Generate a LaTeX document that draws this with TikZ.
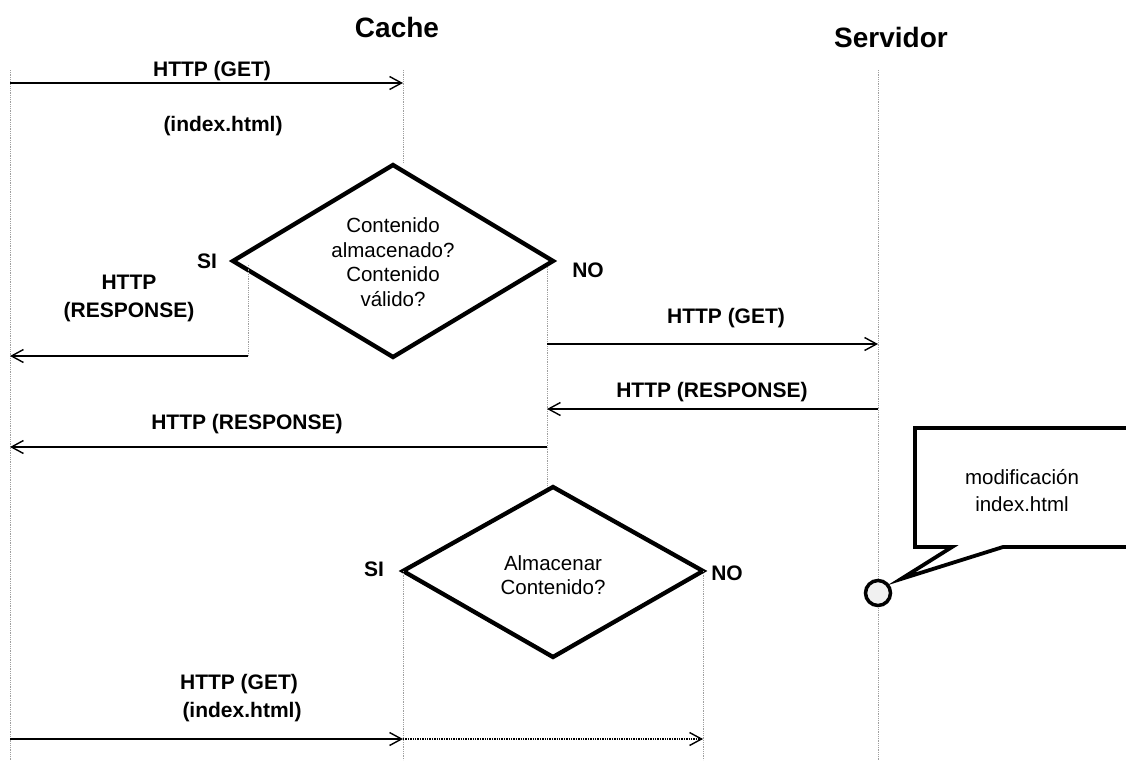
\documentclass[tikz,border=0pt]{standalone}
\usepackage{fontspec}
\setmainfont{Liberation Sans}
\usetikzlibrary{arrows.meta}
\tikzset{
  life/.style={densely dotted, draw=gray!75, line width=0.8pt},
  msg/.style={line width=1.4pt, -{Straight Barb[length=12pt,width=13pt,line width=1.4pt]}},
  dmsg/.style={msg, densely dotted},
  dia/.style={line width=4.3pt, line join=miter},
  callout/.style={line width=3.8pt, line join=miter},
  lbl/.style={font=\fontsize{21}{28}\selectfont\bfseries, inner sep=0pt, align=center},
  ttl/.style={font=\fontsize{28}{32}\selectfont\bfseries, inner sep=0pt},
  txt/.style={font=\fontsize{20.5}{24.5}\selectfont, inner sep=0pt, align=center},
}
\begin{document}
\begin{tikzpicture}[x=1pt,y=-1pt]
\useasboundingbox (0,0) rectangle (1126,760);
\fill[white] (0,0) rectangle (1126,760);
% lifelines
\coordinate (cT) at (10,70);  \coordinate (cB) at (10,760);
\coordinate (kT) at (403,70); \coordinate (kB) at (403,163);
\coordinate (sT) at (878,70); \coordinate (sB) at (878,760);
\draw[life] (cT) -- (cB);
\draw[life] (kT) -- (kB);
\draw[life] (sT) -- (sB);
% titles
\node[ttl] (cache) at (397,27) {Cache};
\node[ttl] (serv) at (891,37) {Servidor};
% first request
\coordinate (a1) at (10,83); \coordinate (a2) at (403,83);
\draw[msg] (a1) -- (a2);
\node[lbl] (get1) at (212,71) {HTTP (GET)};
\node[lbl] (idx1) at (223,126) {(index.html)};
% diamond 1
\coordinate (d1t) at (393,165); \coordinate (d1r) at (553,261);
\coordinate (d1b) at (393,357); \coordinate (d1l) at (233,261);
\draw[dia] (d1t) -- (d1r) -- (d1b) -- (d1l) -- cycle;
\node[txt] (q1) at (393,262) {Contenido\\almacenado?\\Contenido\\válido?};
\node[lbl] (si1) at (207,261) {SI};
\node[lbl] (no1) at (588,270) {NO};
% SI branch
\coordinate (s1a) at (248,265); \coordinate (s1b) at (248,356); \coordinate (s1c) at (10,356);
\draw[life] (s1a) -- (s1b);
\draw[msg] (s1b) -- (s1c);
\node[lbl] (resp1) at (129,298) {HTTP\\(RESPONSE)};
% NO branch
\coordinate (n1a) at (547,267); \coordinate (n1b) at (547,487);
\draw[life] (n1a) -- (n1b);
\coordinate (g2a) at (547,344); \coordinate (g2b) at (878,344);
\draw[msg] (g2a) -- (g2b);
\node[lbl] (get2) at (726,318) {HTTP (GET)};
\coordinate (r2a) at (878,409); \coordinate (r2b) at (547,409);
\draw[msg] (r2a) -- (r2b);
\node[lbl] (resp2) at (712,392) {HTTP (RESPONSE)};
\coordinate (r3a) at (547,447); \coordinate (r3b) at (10,447);
\draw[msg] (r3a) -- (r3b);
\node[lbl] (resp3) at (247,424) {HTTP (RESPONSE)};
% diamond 2
\coordinate (d2t) at (553,487); \coordinate (d2r) at (703,571);
\coordinate (d2b) at (553,657); \coordinate (d2l) at (403,571);
\draw[dia] (d2t) -- (d2r) -- (d2b) -- (d2l) -- cycle;
\node[txt] (q2) at (553,575) {Almacenar\\Contenido?};
\node[lbl] (si2) at (374,569) {SI};
\node[lbl] (no2) at (727,573) {NO};
\coordinate (l2b) at (403,760); \coordinate (r2l) at (703,760);
\draw[life] (d2l) -- (l2b);
\draw[life] (d2r) -- (r2l);
% bottom request
\coordinate (b1a) at (10,739); \coordinate (b1b) at (403,739); \coordinate (b1c) at (703,739);
\draw[msg] (b1a) -- (b1b);
\draw[dmsg] (b1b) -- (b1c);
\node[lbl] (get3) at (239,684) {HTTP (GET)};
\node[lbl] (idx3) at (242,712) {(index.html)};
% event on server + callout
\node[circle, draw, line width=3.5pt, fill=gray!12, minimum size=25pt, inner sep=0pt] (ev) at (878,593) {};
\coordinate (k1) at (1140,428); \coordinate (k2) at (915,428); \coordinate (k3) at (915,547);
\coordinate (k4) at (952,547); \coordinate (k5) at (901,579); \coordinate (k6) at (1003,547);
\coordinate (k7) at (1140,547);
\draw[callout] (k1) -- (k2) -- (k3) -- (k4) -- (k5) -- (k6) -- (k7);
\node[txt, font=\fontsize{20.5}{27}\selectfont] (mod) at (1022,491) {modificación\\index.html};
\end{tikzpicture}
\end{document}
